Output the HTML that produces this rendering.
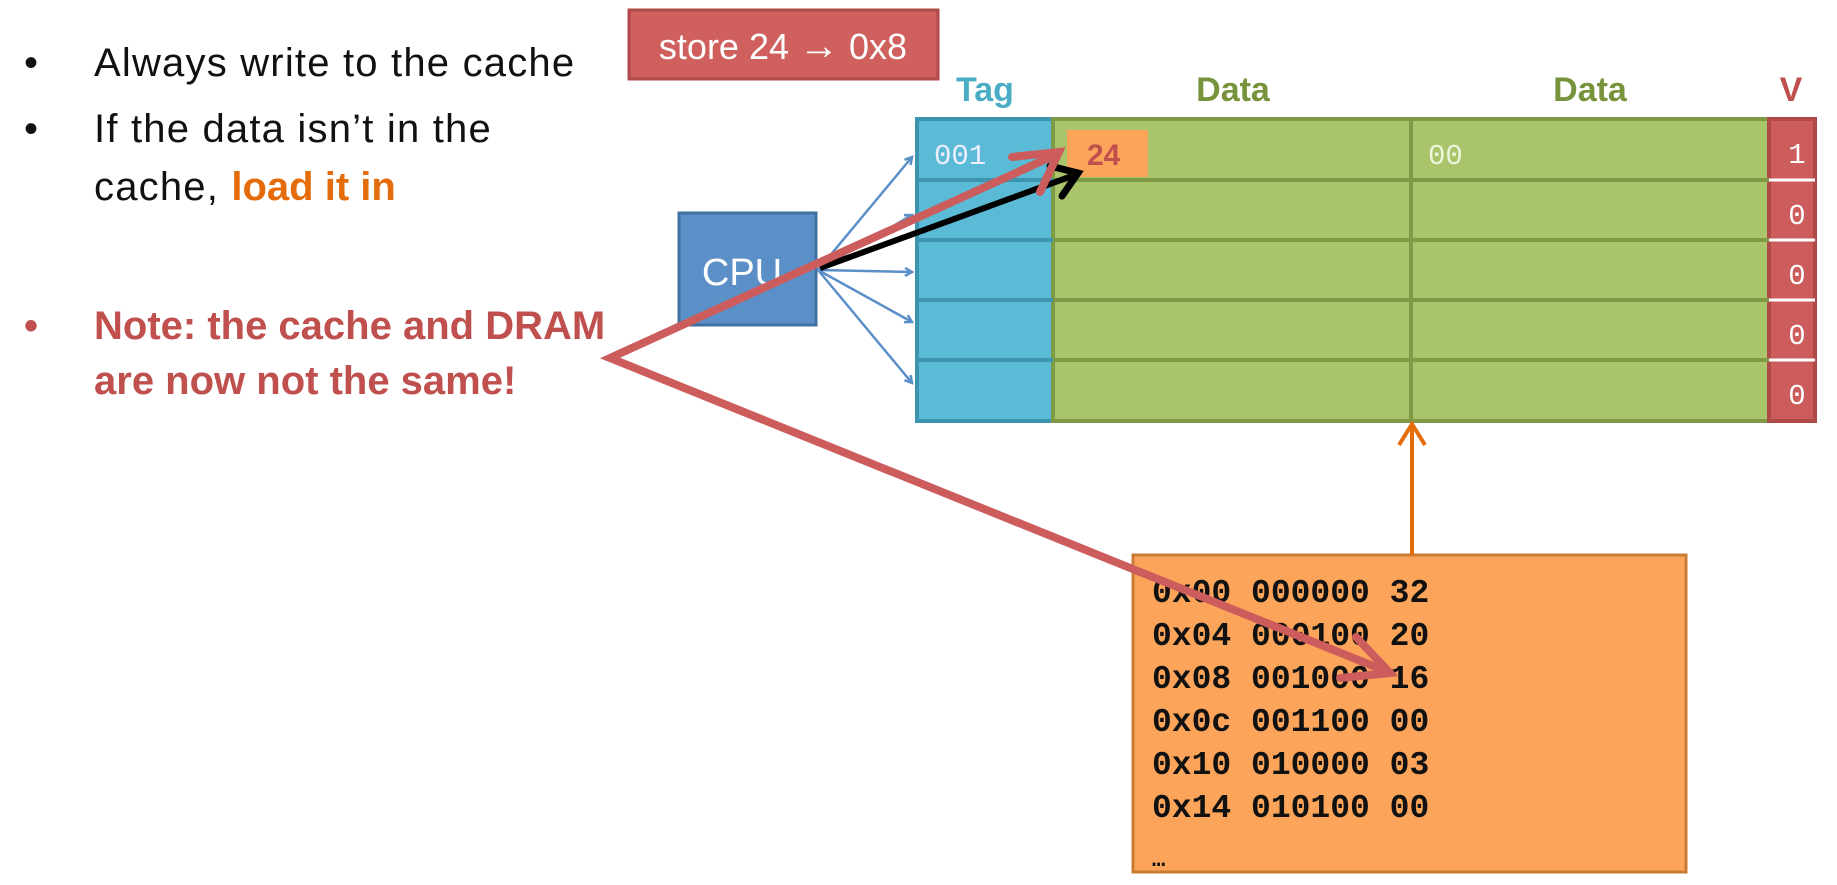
<!DOCTYPE html>
<html><head><meta charset="utf-8"><style>
html,body{margin:0;padding:0;background:#fff;width:1837px;height:885px;overflow:hidden}
svg{display:block}
</style></head><body>
<svg width="1837" height="885" viewBox="0 0 1837 885" xmlns="http://www.w3.org/2000/svg">
<defs>
<marker id="bh" markerWidth="10" markerHeight="10" refX="8" refY="5" orient="auto" markerUnits="userSpaceOnUse"><path d="M1,1 L8,5 L1,9" fill="none" stroke="#5b8fc7" stroke-width="2.5"/></marker>
</defs>
<g font-family="Liberation Sans, sans-serif">
<!-- bullets -->
<g font-size="40" fill="#111" letter-spacing="1.2">
<text x="24" y="76">•</text><text x="94" y="76">Always write to the cache</text>
<text x="24" y="142">•</text><text x="94" y="142">If the data isn’t in the</text>
<text x="94" y="200">cache, <tspan fill="#e46c0a" font-weight="bold" letter-spacing="0">load it in</tspan></text>
</g>
<g font-size="40" fill="#c0504d" font-weight="bold">
<text x="24" y="339">•</text><text x="94" y="339">Note: the cache and DRAM</text>
<text x="94" y="394">are now not the same!</text>
</g>
<!-- store box -->
<rect x="629" y="10" width="309" height="69" fill="#d0605e" stroke="#b04a48" stroke-width="3"/>
<text x="783" y="59" font-size="36" fill="#fff" text-anchor="middle">store 24 <tspan font-size="40">→</tspan> 0x8</text>
<!-- headers -->
<g font-size="34" font-weight="bold">
<text x="985" y="101" fill="#4bacc6" text-anchor="middle">Tag</text>
<text x="1233" y="101" fill="#77933c" text-anchor="middle">Data</text>
<text x="1590" y="101" fill="#77933c" text-anchor="middle">Data</text>
<text x="1791" y="101" fill="#c0504d" text-anchor="middle">V</text>
</g>
<!-- table -->
<g stroke-width="4">
<rect x="917" y="119" width="136" height="302" fill="#5bbad5" stroke="#3c94ae"/>
<rect x="1053" y="119" width="716" height="302" fill="#a9c46a" stroke="#7f9a45"/>
<rect x="1769" y="119" width="46" height="302" fill="#cd5c5c" stroke="#b04a48"/>
<g stroke="#3c94ae"><line x1="917" y1="180" x2="1053" y2="180"/><line x1="917" y1="240" x2="1053" y2="240"/><line x1="917" y1="300" x2="1053" y2="300"/><line x1="917" y1="360" x2="1053" y2="360"/></g>
<g stroke="#7f9a45"><line x1="1053" y1="180" x2="1769" y2="180"/><line x1="1053" y1="240" x2="1769" y2="240"/><line x1="1053" y1="300" x2="1769" y2="300"/><line x1="1053" y1="360" x2="1769" y2="360"/><line x1="1411" y1="119" x2="1411" y2="421"/></g>
<g stroke="#fff" stroke-width="3"><line x1="1769" y1="180" x2="1815" y2="180"/><line x1="1769" y1="240" x2="1815" y2="240"/><line x1="1769" y1="300" x2="1815" y2="300"/><line x1="1769" y1="360" x2="1815" y2="360"/></g>
</g>
<rect x="1067" y="130" width="81" height="47" fill="#fba45a"/>
<g font-family="Liberation Mono, monospace" font-size="29">
<text x="934" y="164" fill="#eef">001</text>
<text x="1087" y="165" fill="#c0504d" font-family="Liberation Sans, sans-serif" font-weight="bold" font-size="30">24</text>
<text x="1428" y="164" fill="#eef4dd">00</text>
<g fill="#fff" text-anchor="middle"><text x="1797" y="163">1</text><text x="1797" y="224">0</text><text x="1797" y="284">0</text><text x="1797" y="344">0</text><text x="1797" y="404">0</text></g>
</g>
<!-- CPU -->
<rect x="679" y="213" width="137" height="112" fill="#5b8fc7" stroke="#41729f" stroke-width="3"/>
<text x="742" y="285" font-size="38" fill="#fff" text-anchor="middle">CPU</text>
<!-- blue arrows -->
<g stroke="#5b8fc7" stroke-width="2.5" marker-end="url(#bh)">
<line x1="818" y1="270" x2="912" y2="157"/>
<line x1="818" y1="270" x2="912" y2="215"/>
<line x1="818" y1="270" x2="912" y2="272"/>
<line x1="818" y1="270" x2="912" y2="322"/>
<line x1="818" y1="270" x2="912" y2="383"/>
</g>
<!-- DRAM -->
<rect x="1133" y="555" width="553" height="317" fill="#fba45a" stroke="#c97a35" stroke-width="3"/>
<g font-family="Liberation Mono, monospace" font-size="33" font-weight="bold" fill="#111">
<text x="1152" y="602">0x00 000000 32</text>
<text x="1152" y="645">0x04 000100 20</text>
<text x="1152" y="688">0x08 001000 16</text>
<text x="1152" y="731">0x0c 001100 00</text>
<text x="1152" y="774">0x10 010000 03</text>
<text x="1152" y="817">0x14 010100 00</text>
<text x="1152" y="866" font-size="22">…</text>
</g>
<!-- orange arrow -->
<line x1="1412" y1="555" x2="1412" y2="424" stroke="#e46c0a" stroke-width="4"/>
<path d="M1399,445 L1412,424 L1425,445" fill="none" stroke="#e46c0a" stroke-width="4"/>
<!-- black arrow -->
<line x1="820" y1="268" x2="1072" y2="176" stroke="#000" stroke-width="6"/>
<path d="M1050,166 L1078,173 L1062,196" fill="none" stroke="#000" stroke-width="7" stroke-linecap="round"/>
<!-- red arrow -->
<polyline points="1055,155 610,358 1388,672" fill="none" stroke="#cd5c5c" stroke-width="8" stroke-linejoin="miter"/>
<path d="M1012,157 L1059,152 L1040,192" fill="none" stroke="#cd5c5c" stroke-width="8" stroke-linecap="round"/>
<path d="M1356,637 L1390,673 L1340,678" fill="none" stroke="#cd5c5c" stroke-width="8" stroke-linecap="round"/>
</g>
</svg>
</body></html>
